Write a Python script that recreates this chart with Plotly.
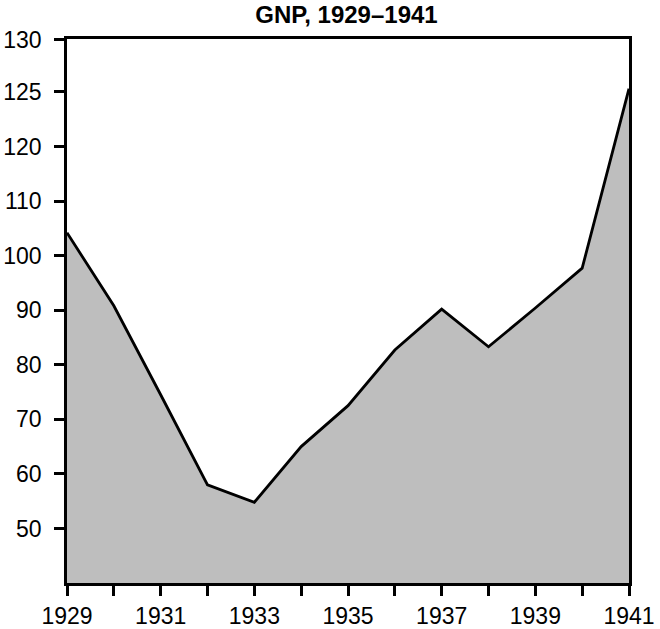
import plotly.graph_objects as go

# Data (in the chart's linear axis units)
years = [1929, 1930, 1931, 1932, 1933, 1934, 1935, 1936, 1937, 1938, 1939, 1940, 1941]
gnp = [104.2, 90.8, 74.5, 58.0, 54.8, 65.0, 72.5, 82.7, 90.2, 83.3, 90.4, 97.7, 130.6]

x_tick_vals = years
x_tick_text = [str(y) if (y - 1929) % 2 == 0 else "" for y in years]

y_tick_vals = [50, 60, 70, 80, 90, 100, 110, 120, 130, 139.6]
y_tick_text = ["50", "60", "70", "80", "90", "100", "110", "120", "125", "130"]

fig = go.Figure()
fig.add_trace(go.Scatter(
    x=years, y=gnp, mode="lines", fill="tozeroy",
    fillcolor="#bebebe", line=dict(color="black", width=2.8),
    showlegend=False, hoverinfo="skip",
))

font_family = "Liberation Sans, Arial, Helvetica, sans-serif"

fig.update_layout(
    width=660, height=629,
    margin=dict(l=67, r=31, t=39, b=46),
    paper_bgcolor="white", plot_bgcolor="white",
    title=dict(text="<b>GNP, 1929\u20131941</b>", x=0.525, xanchor="center",
               y=0.976, yanchor="middle",
               font=dict(family=font_family, size=24, color="black")),
    font=dict(family=font_family, size=23, color="black"),
)
fig.update_xaxes(
    range=[1929, 1941], tickmode="array", tickvals=x_tick_vals, ticktext=x_tick_text,
    ticks="outside", ticklen=10, tickwidth=2.5, tickcolor="black",
    showline=True, linecolor="black", linewidth=2.5, mirror=True,
    showgrid=False, zeroline=False, automargin=False, ticklabelstandoff=1,
    tickfont=dict(family=font_family, size=23, color="black"),
)
fig.update_yaxes(
    range=[40, 139.7], tickmode="array", tickvals=y_tick_vals, ticktext=y_tick_text,
    ticks="outside", ticklen=10, tickwidth=2.5, tickcolor="black",
    showline=True, linecolor="black", linewidth=2.5, mirror=True,
    showgrid=False, zeroline=False, automargin=False, ticklabelstandoff=8,
    tickfont=dict(family=font_family, size=23, color="black"),
)

fig.write_html(
    "out.html",
    config={"displayModeBar": False},
    post_script="document.body.style.margin='0';document.body.style.overflow='hidden';",
)
